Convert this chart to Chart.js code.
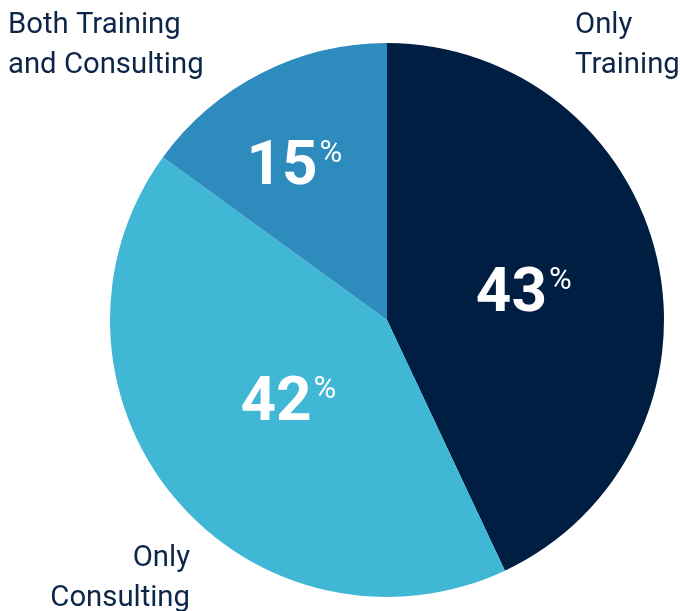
<!DOCTYPE html>
<html>
<head>
<meta charset="utf-8">
<script src="https://cdn.jsdelivr.net/npm/chart.js@4.4.1/dist/chart.umd.min.js"></script>
<style>
  html, body { margin: 0; padding: 0; background: #ffffff; }
  #wrap { width: 680px; height: 611px; position: relative; }
</style>
</head>
<body>
<div id="wrap"><canvas id="pie"></canvas></div>
<script>
// Survey split of services used
const categories = ['Only Training', 'Only Consulting', 'Both Training and Consulting'];
const labelLines = [['Only', 'Training'], ['Only', 'Consulting'], ['Both Training', 'and Consulting']];
const shares = [43, 42, 15];
const sliceColors = ['#001e42', '#41b7d6', '#2e8bbd'];

const FONT = 'Roboto, "Noto Sans", sans-serif';
const TEXT_COLOR = '#0b2649';

// Percentage labels inside each slice (radius as fraction of outer radius)
const valueLabelPlugin = {
  id: 'valueLabels',
  afterDatasetsDraw(chart, args, opts) {
    const ctx = chart.ctx;
    const meta = chart.getDatasetMeta(0);
    const data = chart.data.datasets[0].data;
    meta.data.forEach((arc, i) => {
      const p = arc.getProps(['x', 'y', 'startAngle', 'endAngle', 'outerRadius'], true);
      const mid = (p.startAngle + p.endAngle) / 2 + (opts.angleShift[i] || 0);
      const r = p.outerRadius * opts.radius[i];
      const cx = p.x + Math.cos(mid) * r;
      const cy = p.y + Math.sin(mid) * r;
      const num = String(data[i]);
      ctx.save();
      ctx.fillStyle = '#ffffff';
      ctx.textBaseline = 'alphabetic';
      ctx.textAlign = 'left';
      ctx.font = `bold ${opts.numSize}px ${FONT}`;
      const wNum = ctx.measureText(num).width;
      ctx.font = `${opts.pctSize}px ${FONT}`;
      const wPct = ctx.measureText('%').width;
      const total = wNum + 2 + wPct;
      const x0 = cx - total / 2;
      const capNum = opts.numSize * 0.711;
      const base = cy + capNum / 2;
      ctx.font = `bold ${opts.numSize}px ${FONT}`;
      ctx.fillText(num, x0, base);
      ctx.font = `${opts.pctSize}px ${FONT}`;
      ctx.fillText('%', x0 + wNum + 2, base - capNum + opts.pctSize * 0.711);
      ctx.restore();
    });
  }
};

// Category names placed around the pie
const categoryLabelPlugin = {
  id: 'categoryLabels',
  afterDraw(chart, args, opts) {
    const ctx = chart.ctx;
    ctx.save();
    ctx.fillStyle = TEXT_COLOR;
    ctx.font = `${opts.size}px ${FONT}`;
    ctx.textBaseline = 'alphabetic';
    opts.anchors.forEach((a, i) => {
      ctx.textAlign = a.align;
      labelLines[i].forEach((line, k) => {
        ctx.fillText(line, a.x, a.y + k * opts.lineHeight);
      });
    });
    ctx.restore();
  }
};

new Chart(document.getElementById('pie'), {
  type: 'pie',
  data: {
    labels: categories,
    datasets: [{
      data: shares,
      backgroundColor: sliceColors,
      borderWidth: 0,
      hoverOffset: 0
    }]
  },
  options: {
    responsive: true,
    maintainAspectRatio: false,
    animation: false,
    events: [],
    layout: { padding: { left: 110, right: 16, top: 43, bottom: 14 } },
    plugins: {
      legend: { display: false },
      tooltip: { enabled: false },
      valueLabels: {
        radius: [0.506, 0.455, 0.66],
        angleShift: [0, 0.02, -0.06],
        numSize: 62,
        pctSize: 31
      },
      categoryLabels: {
        size: 29.3,
        lineHeight: 40,
        anchors: [
          { x: 575, y: 33, align: 'left' },
          { x: 190, y: 566, align: 'right' },
          { x: 8, y: 33, align: 'left' }
        ]
      }
    }
  },
  plugins: [valueLabelPlugin, categoryLabelPlugin]
});
</script>
</body>
</html>
